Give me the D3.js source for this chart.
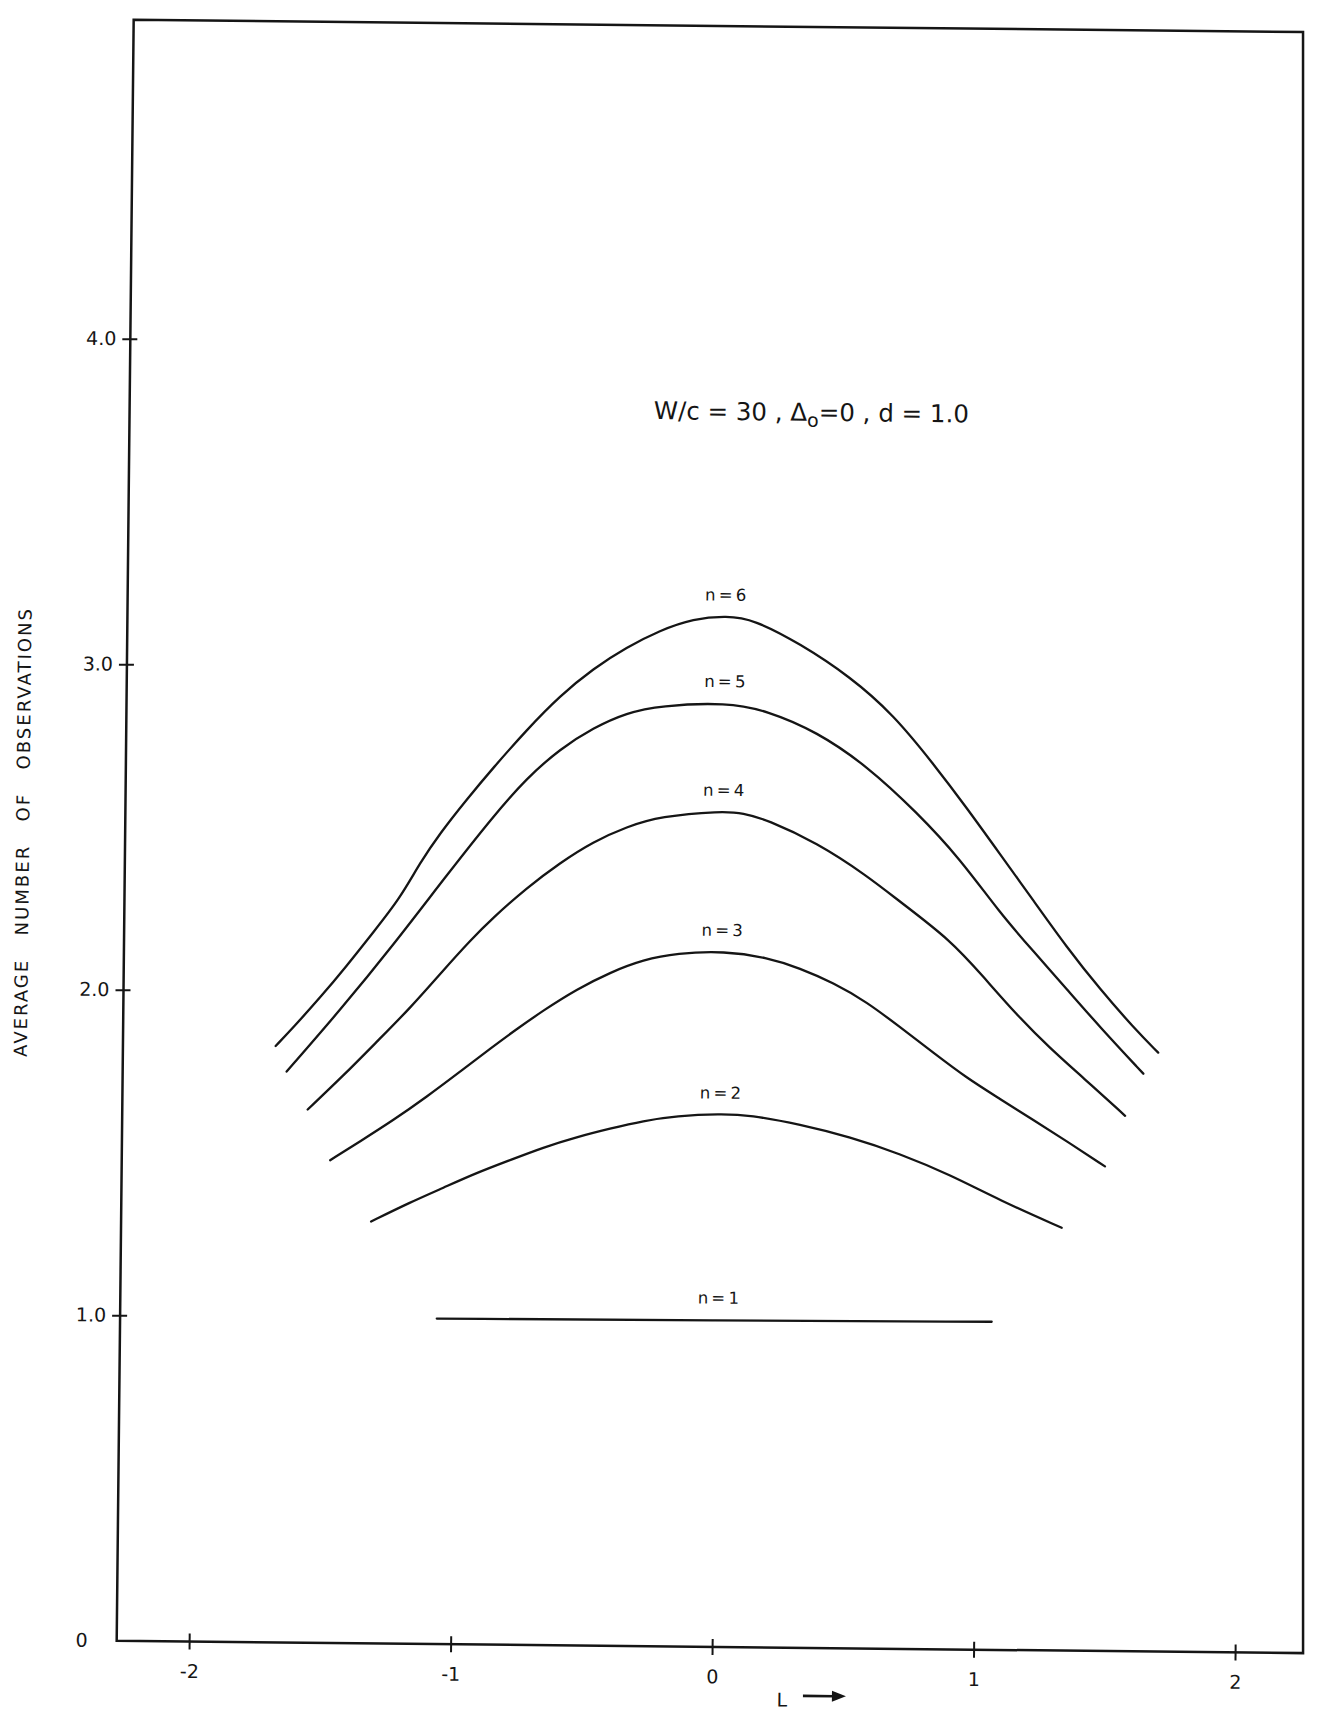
<!DOCTYPE html>
<html>
<head>
<meta charset="utf-8">
<script src="https://cdn.jsdelivr.net/npm/d3@7"></script>
<style>
  html, body { margin: 0; padding: 0; background: #fff; }
  svg { display: block; }
  text { font-family: 'DejaVu Sans', 'Liberation Sans', sans-serif; fill: #151515; }
</style>
</head>
<body>
<div id="chart"></div>
<script>
// Average number of observations against L, one curve per n.
const xTicks = [-2, -1, 0, 1, 2];
const yTicks = [0, 1, 2, 3, 4];
const seriesLabels = ["n = 1", "n = 2", "n = 3", "n = 4", "n = 5", "n = 6"];

const n1 = [[-1.066, 1.0], [0, 1.003], [1.056, 1.008]];
const n2 = [[-1.321, 1.296], [-1.173, 1.356], [-1.046, 1.402], [-0.919, 1.449], [-0.792, 1.489],
            [-0.666, 1.529], [-0.538, 1.562], [-0.411, 1.589], [-0.284, 1.614], [-0.157, 1.630],
            [0.009, 1.638], [0.124, 1.635], [0.315, 1.608], [0.507, 1.571], [0.699, 1.521],
            [0.891, 1.458], [1.083, 1.381], [1.320, 1.299]];
const n3 = [[-1.480, 1.483], [-1.366, 1.542], [-1.240, 1.608], [-1.113, 1.681], [-0.987, 1.759],
            [-0.861, 1.838], [-0.785, 1.884], [-0.671, 1.950], [-0.544, 2.016], [-0.417, 2.069],
            [-0.290, 2.109], [-0.163, 2.130], [0.020, 2.138], [0.181, 2.120], [0.309, 2.088],
            [0.437, 2.044], [0.565, 1.987], [0.694, 1.910], [0.822, 1.833], [0.951, 1.756],
            [1.079, 1.693], [1.207, 1.629], [1.336, 1.565], [1.483, 1.489]];
const n4 = [[-1.568, 1.638], [-1.433, 1.743], [-1.307, 1.848], [-1.181, 1.952], [-1.055, 2.070],
            [-0.954, 2.162], [-0.866, 2.234], [-0.739, 2.326], [-0.613, 2.404], [-0.487, 2.470],
            [-0.359, 2.517], [-0.232, 2.550], [0.000, 2.568], [0.086, 2.563], [0.176, 2.543],
            [0.368, 2.474], [0.560, 2.375], [0.689, 2.295], [0.882, 2.180], [1.010, 2.068],
            [1.139, 1.952], [1.268, 1.850], [1.397, 1.760], [1.558, 1.645]];
const n5 = [[-1.650, 1.754], [-1.448, 1.944], [-1.247, 2.146], [-1.046, 2.362], [-0.870, 2.545],
            [-0.744, 2.663], [-0.617, 2.754], [-0.491, 2.820], [-0.364, 2.867], [-0.237, 2.890],
            [0.020, 2.902], [0.172, 2.878], [0.364, 2.815], [0.556, 2.712], [0.749, 2.571],
            [0.916, 2.430], [1.072, 2.263], [1.201, 2.147], [1.330, 2.032], [1.459, 1.916],
            [1.626, 1.775]];
const n6 = [[-1.693, 1.832], [-1.626, 1.890], [-1.525, 1.982], [-1.425, 2.080], [-1.324, 2.185],
            [-1.224, 2.289], [-1.148, 2.400], [-1.073, 2.491], [-0.972, 2.596], [-0.872, 2.694],
            [-0.745, 2.812], [-0.620, 2.917], [-0.493, 3.002], [-0.367, 3.068], [-0.240, 3.121],
            [-0.113, 3.158], [0.015, 3.168], [0.117, 3.158], [0.296, 3.085], [0.489, 2.985],
            [0.656, 2.870], [0.811, 2.720], [0.940, 2.586], [1.070, 2.444], [1.199, 2.303],
            [1.328, 2.161], [1.457, 2.033], [1.586, 1.917], [1.682, 1.840]];

const seriesValues = [n1, n2, n3, n4, n5, n6];

// ---- layout ----
const W = 1328, H = 1712;
const originX = 116.7, originY = 1640.7;   // lower-left corner of the frame
const tilt = 0.6;                            // sheet sits slightly turned
const xDomain = [-2.277, 2.26], yDomain = [0, 4.98];
const frameRightTop = 2.195;                 // right edge leans in a little at the top
const pxPerX = 261.5, pxPerY = 325.5;
const plotW = (xDomain[1] - xDomain[0]) * pxPerX;
const plotH = (yDomain[1] - yDomain[0]) * pxPerY;

const x = d3.scaleLinear().domain(xDomain).range([0, plotW]);
const y = d3.scaleLinear().domain(yDomain).range([plotH, 0]);

const svg = d3.select("#chart").append("svg")
  .attr("width", W).attr("height", H)
  .attr("viewBox", `0 0 ${W} ${H}`);
svg.append("rect").attr("width", W).attr("height", H).attr("fill", "#fff");

const g = svg.append("g")
  .attr("transform", `translate(${originX},${originY}) rotate(${tilt}) translate(0,${-plotH})`);

const ink = "#151515";

// frame
const frameCorners = [
  [xDomain[0], yDomain[1]], [frameRightTop, yDomain[1]],
  [xDomain[1], yDomain[0]], [xDomain[0], yDomain[0]]
];
g.append("path")
  .attr("d", d3.line().x(d => x(d[0])).y(d => y(d[1]))(frameCorners) + "Z")
  .attr("fill", "none").attr("stroke", ink).attr("stroke-width", 2.5)
  .attr("stroke-linejoin", "miter");

// y axis
const yAxis = d3.axisLeft(y).tickValues(yTicks).tickSize(8).tickPadding(6)
  .tickFormat(d => d === 0 ? "0" : d.toFixed(1));
const gy = g.append("g").call(yAxis);
gy.select(".domain").remove();
gy.selectAll(".tick line").attr("x1", 7).attr("stroke", ink).attr("stroke-width", 2);
gy.selectAll(".tick text").attr("font-size", 19).attr("fill", ink)
  .attr("font-family", "'DejaVu Sans', sans-serif");
gy.selectAll(".tick").filter(d => d === 0).select("line").remove();
gy.selectAll(".tick").filter(d => d === 0).select("text").attr("x", -29);

// x axis
const xAxis = d3.axisBottom(x).tickValues(xTicks).tickSize(8).tickPadding(15)
  .tickFormat(d => String(d));
const gx = g.append("g").attr("transform", `translate(0,${plotH})`).call(xAxis);
gx.select(".domain").remove();
gx.selectAll(".tick line").attr("y1", -8).attr("stroke", ink).attr("stroke-width", 2);
gx.selectAll(".tick text").attr("font-size", 19).attr("fill", ink)
  .attr("font-family", "'DejaVu Sans', sans-serif");

// axis titles
g.append("text")
  .attr("transform", `translate(-96,${plotH - 806.7}) rotate(-90)`)
  .attr("text-anchor", "middle")
  .attr("font-size", 18)
  .attr("textLength", 448).attr("lengthAdjust", "spacing")
  .style("white-space", "pre")
  .text("AVERAGE   NUMBER   OF   OBSERVATIONS");

const lx = x(0.269);
g.append("text")
  .attr("x", lx).attr("y", plotH + 59)
  .attr("text-anchor", "middle").attr("font-size", 19)
  .text("L");
g.append("line")
  .attr("x1", lx + 21).attr("x2", lx + 52)
  .attr("y1", plotH + 48).attr("y2", plotH + 48)
  .attr("stroke", ink).attr("stroke-width", 2.6);
g.append("path")
  .attr("d", `M${lx + 64},${plotH + 48} L${lx + 50},${plotH + 42.5} L${lx + 50},${plotH + 53.5} Z`)
  .attr("fill", ink);

// parameter note
const note = g.append("text")
  .attr("x", x(0.33)).attr("y", y(3.77))
  .attr("text-anchor", "middle").attr("font-size", 24.5);
note.append("tspan").text("W/c = 30 , Δ");
note.append("tspan").attr("font-size", 19).attr("dy", 6).text("o");
note.append("tspan").attr("dy", -6).text("=0 , d = 1.0");

// curves, smoothed like a french-curve tracing
const line = d3.line()
  .x(d => x(d[0])).y(d => y(d[1]))
  .curve(d3.curveBasis);

g.append("g").selectAll("path")
  .data(seriesValues)
  .join("path")
  .attr("d", line)
  .attr("fill", "none")
  .attr("stroke", ink)
  .attr("stroke-width", 2.3)
  .attr("stroke-linejoin", "round")
  .attr("stroke-linecap", "round");

// curve labels above each peak
g.append("g").selectAll("text")
  .data(seriesValues)
  .join("text")
  .attr("x", x(0.01))
  .attr("y", d => y(d3.max(d, p => p[1])) - 21)
  .attr("dy", "0.35em")
  .attr("text-anchor", "middle")
  .attr("font-size", 16.5)
  .attr("word-spacing", -2)
  .text((d, i) => seriesLabels[i]);
</script>
</body>
</html>
